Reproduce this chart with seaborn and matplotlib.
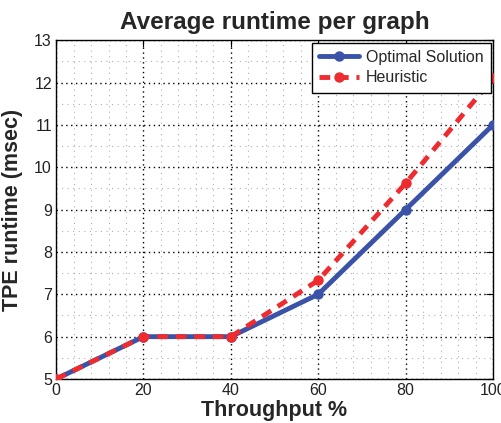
import matplotlib
matplotlib.use("Agg")
import matplotlib.pyplot as plt
import seaborn as sns
import pandas as pd
from matplotlib.ticker import MultipleLocator

# Data
throughput = [0, 20, 40, 60, 80, 100]
optimal = [5, 6, 6, 7, 9, 11]
heuristic = [5, 6, 6, 7.33, 9.62, 12.1]

df = pd.DataFrame({'throughput': throughput, 'Optimal Solution': optimal, 'Heuristic': heuristic})

sns.set_style("white")
plt.rcParams['font.family'] = ['Liberation Sans', 'DejaVu Sans']

fig = plt.figure(figsize=(5.01, 4.23), dpi=100)
ax = fig.add_axes([0.112, 0.104, 0.872, 0.801])

sns.lineplot(data=df, x='throughput', y='Optimal Solution', ax=ax, color='#3a52a8',
             linewidth=3.5, marker='o', markersize=7.5, markeredgewidth=0,
             label='Optimal Solution', zorder=3)
sns.lineplot(data=df, x='throughput', y='Heuristic', ax=ax, color='#ee2b2f',
             linewidth=3.5, linestyle=(0, (2.2, 1.6)), marker='o', markersize=7.5,
             markeredgewidth=0, label='Heuristic', zorder=4)

ax.set_xlim(0, 100)
ax.set_ylim(5, 13)
ax.xaxis.set_major_locator(MultipleLocator(20))
ax.xaxis.set_minor_locator(MultipleLocator(4))
ax.yaxis.set_major_locator(MultipleLocator(1))
ax.yaxis.set_minor_locator(MultipleLocator(0.5))

# Grid: black dotted major, light grey sparse dotted minor
ax.grid(which='major', color='black', linestyle=(0, (1, 2.5)), linewidth=1.0)
ax.grid(which='minor', color='#b0b0b0', linestyle=(0, (1, 4)), linewidth=0.8)
ax.set_axisbelow(True)

for s in ax.spines.values():
    s.set_color('black')
    s.set_linewidth(1.0)

ax.tick_params(which='major', direction='in', length=5, labelsize=11.5, colors='black',
               labelcolor='#222222', pad=3)
ax.tick_params(which='minor', direction='in', length=0)
ax.tick_params(top=True, right=True, which='major')

ax.set_title('Average runtime per graph', fontsize=17.5, fontweight='bold', pad=8)
ax.set_xlabel('Throughput %', fontsize=15.5, fontweight='bold', labelpad=1)
ax.set_ylabel('TPE runtime (msec)', fontsize=15.5, fontweight='bold', labelpad=8)

leg = ax.legend(loc='upper right', fontsize=11.5, frameon=True, fancybox=False,
                edgecolor='black', framealpha=1, borderpad=0.45, handlelength=2.5,
                labelspacing=0.35, handletextpad=0.4, borderaxespad=0.15)
leg.get_frame().set_linewidth(1.0)

fig.savefig('out.png', dpi=100)
